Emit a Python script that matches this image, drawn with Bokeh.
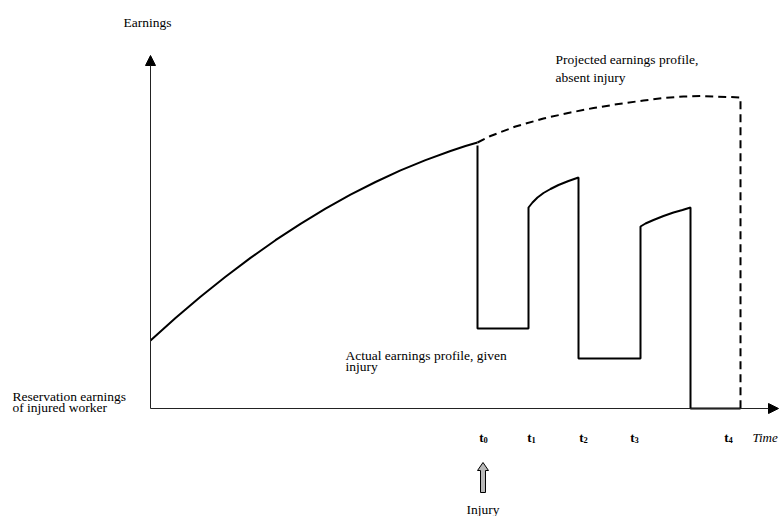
from bokeh.plotting import figure
from bokeh.models import Range1d, Arrow, NormalHead
from bokeh.core.properties import value
from bokeh.embed import file_html
from bokeh.resources import INLINE

# ---- schematic data (time units on x, earnings units on y) ----
pre_time = [0, 25, 50, 75, 100, 125, 150, 175, 200, 225, 250, 275, 300, 315, 327]
pre_earn = [68, 90.5, 111.8, 131.8, 150.6, 168.3, 184.7, 199.8, 213.8, 226.5, 238.1,
            248.4, 257.5, 262.5, 266]

actual_time = [327, 327, 378, 378, 382, 387, 393, 400, 408, 418, 428, 428, 490, 490,
               495, 503, 513, 523, 532, 540, 540, 590]
actual_earn = [263, 80, 80, 201, 206, 211, 215.5, 219.5, 223.5, 227.5, 231, 50, 50, 182,
               185, 188.5, 192.5, 196, 198.5, 201, 0, 0]

proj_time = [327, 340, 365, 393, 420, 443, 468, 493, 513, 533, 550, 563, 578, 590, 590]
proj_earn = [266, 272.5, 282, 290, 296, 300.5, 304.5, 308, 310.5, 312, 312.5, 312, 311.5, 311, 0]

tick_time = [332, 380, 432, 483, 577]
tick_main = ["t", "t", "t", "t", "t"]
tick_sub = ["0", "1", "2", "3", "4"]

injury_time = 332.5
time_axis_end = 628
earn_axis_end = 353

FONT = value("Liberation Serif")

p = figure(width=784, height=516, x_range=Range1d(-150, 634), y_range=Range1d(-108, 408),
           output_backend="svg", toolbar_location=None, min_border=0,
           x_axis_location=None, y_axis_location=None)
p.grid.visible = False
p.outline_line_color = None
p.background_fill_color = "white"
p.border_fill_color = "white"

# axes with arrow heads
p.add_layout(Arrow(end=NormalHead(size=10, fill_color="black", line_color="black", line_width=1),
                   x_start=0, y_start=0, x_end=0, y_end=earn_axis_end,
                   line_color="#222222", line_width=1))
p.add_layout(Arrow(end=NormalHead(size=10, fill_color="black", line_color="black", line_width=1),
                   x_start=0, y_start=0, x_end=time_axis_end, y_end=0,
                   line_color="#222222", line_width=1))

# earnings profiles
p.line(pre_time, pre_earn, line_color="black", line_width=2)
p.line(actual_time, actual_earn, line_color="black", line_width=2)
p.line(proj_time, proj_earn, line_color="black", line_width=2, line_dash="8 5")

# tick labels t0..t4
p.text(tick_time, [-29] * len(tick_time), text=tick_main, text_font=FONT,
       text_font_size="13px", text_font_style="bold", text_align="right",
       text_baseline="alphabetic", x_offset=1, text_color="black")
p.text(tick_time, [-29] * len(tick_time), text=tick_sub, text_font=FONT,
       text_font_size="8.5px", text_font_style="bold", text_align="left",
       text_baseline="alphabetic", x_offset=1, y_offset=2, text_color="black")
p.text([602], [-29], text=["Time"], text_font=FONT, text_font_size="13px",
       text_font_style="italic", text_align="left", text_baseline="alphabetic", text_color="black")

# injury arrow (block arrow, grey fill)
hx, sx = 5.5, 2.5
tip, base, bottom = -54, -62, -84
p.patch([injury_time, injury_time + hx, injury_time + sx, injury_time + sx,
         injury_time - sx, injury_time - sx, injury_time - hx],
        [tip, base, base, bottom, bottom, base, base],
        fill_color="#b8b8b8", line_color="black", line_width=1)
p.text([injury_time], [-101], text=["Injury"], text_font=FONT, text_font_size="13.5px",
       text_align="center", text_baseline="alphabetic", text_color="black")

# annotations
p.text([-3], [386], text=["Earnings"], text_font=FONT, text_font_size="13.5px",
       text_align="center", text_baseline="alphabetic", text_color="black")
p.text([405, 405], [349, 331], text=["Projected earnings profile,", "absent injury"],
       text_font=FONT, text_font_size="13.5px", text_align="left",
       text_baseline="alphabetic", text_color="black")
p.text([195, 195], [53, 42], text=["Actual earnings profile, given", "injury"],
       text_font=FONT, text_font_size="13.5px", text_align="left",
       text_baseline="alphabetic", text_color="black")
p.text([-138, -138], [12, 1.5], text=["Reservation earnings", "of injured worker"],
       text_font=FONT, text_font_size="13.5px", text_align="left",
       text_baseline="alphabetic", text_color="black")

open("out.html", "w").write(file_html(p, INLINE))
